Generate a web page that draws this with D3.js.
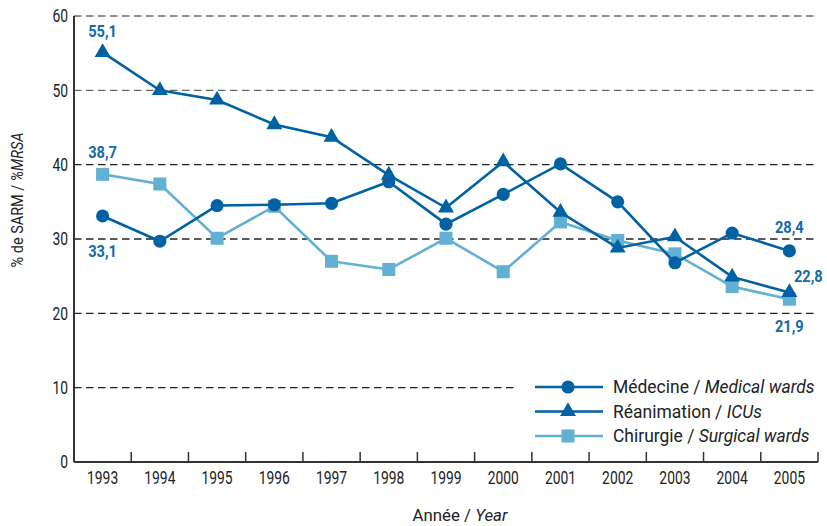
<!DOCTYPE html>
<html><head><meta charset="utf-8">
<script src="https://cdn.jsdelivr.net/npm/d3@7"></script>
<style>
body{margin:0;background:#fff;}
text{font-family:"Roboto","Liberation Sans",sans-serif;}
</style></head>
<body><svg id="c" width="827" height="526"></svg>
<script>
const years = ["1993","1994","1995","1996","1997","1998","1999","2000","2001","2002","2003","2004","2005"];
const medecine = [33.1,29.7,34.5,34.6,34.8,37.7,32.0,36.0,40.1,35.0,26.8,30.8,28.4];
const reanimation = [55.1,50.0,48.7,45.4,43.7,38.6,34.2,40.4,33.6,28.8,30.3,24.9,22.8];
const chirurgie = [38.7,37.4,30.1,34.4,27.0,25.9,30.1,25.6,32.3,29.8,28.0,23.6,21.9];
const yTicks = [0,10,20,30,40,50,60];
const seriesNames = [["Médecine / ","Medical wards"],["Réanimation / ","ICUs"],["Chirurgie / ","Surgical wards"]];
const valueLabels = [
  {s:1,i:0,t:"55,1",dx:0,dy:-21},
  {s:2,i:0,t:"38,7",dx:0,dy:-22},
  {s:0,i:0,t:"33,1",dx:0,dy:35},
  {s:0,i:12,t:"28,4",dx:0,dy:-24},
  {s:1,i:12,t:"22,8",dx:19,dy:-17},
  {s:2,i:12,t:"21,9",dx:0,dy:27}
];

const dark="#0062a2", light="#62b0d3", lblColor="#1569a7";
const svg=d3.select("#c");
const L=74,R=818,T=16,B=462;
const x=d3.scaleBand().domain(years).range([L,R]);
const y=d3.scaleLinear().domain([0,60]).range([B,T]);

function compress(sel,k){
  sel.each(function(){
    const l=this.getComputedTextLength();
    this.setAttribute("textLength",l*k);
    this.setAttribute("lengthAdjust","spacingAndGlyphs");
  });
}

// grid
svg.append("g").selectAll("line").data(yTicks.filter(d=>d>0)).join("line")
  .attr("x1",L).attr("x2",R).attr("y1",d=>y(d)).attr("y2",d=>y(d))
  .attr("stroke",d=>(d===50||d===60)?"#666":"#222").attr("stroke-width",1.3).attr("stroke-dasharray","7.5,4.5");

// y axis
const ya=svg.append("g").attr("transform",`translate(${L},0)`).call(d3.axisLeft(y).tickValues(yTicks).tickSize(0).tickPadding(6));
ya.select(".domain").attr("stroke","#333").attr("stroke-width",2).attr("d",`M0,${T}V${B}`);
ya.selectAll("text").attr("font-size",18).attr("fill","#222").call(compress,0.77);
// x axis
const xa=svg.append("g").attr("transform",`translate(0,${B})`).call(d3.axisBottom(x).tickSize(0));
xa.select(".domain").attr("stroke","#333").attr("stroke-width",2).attr("d",`M${L},0H${R}`);
xa.selectAll("text").attr("dy",null).attr("y",22).attr("font-size",18).attr("fill","#222").call(compress,0.77);
svg.append("g").selectAll("line").data(d3.range(1,years.length+1)).join("line")
  .attr("x1",d=>L+x.step()*d).attr("x2",d=>L+x.step()*d)
  .attr("y1",B).attr("y2",B-10).attr("stroke","#333").attr("stroke-width",1.5);

// titles
svg.append("text").attr("x",460).attr("y",521).attr("text-anchor","middle").attr("font-size",17).attr("fill","#222")
  .html('Année / <tspan font-style="italic">Year</tspan>').call(compress,0.99);
svg.append("text").attr("transform","translate(23,200) rotate(-90)").attr("text-anchor","middle").attr("font-size",17).attr("fill","#222")
  .html('% de SARM / <tspan font-style="italic">%MRSA</tspan>').call(compress,0.85);

const cx=d=>x(d)+x.bandwidth()/2;
const data=[medecine,reanimation,chirurgie];
const colors=[dark,dark,light];
const syms=[d3.symbolCircle,d3.symbolTriangle,d3.symbolSquare];
const sizes=[135,110,170];
const line=d3.line().x((d,i)=>cx(years[i])).y(d=>y(d));
[2,0,1].forEach(s=>{
  svg.append("path").datum(data[s]).attr("d",line).attr("fill","none").attr("stroke",colors[s]).attr("stroke-width",2.6);
  svg.append("g").selectAll("path").data(data[s]).join("path")
    .attr("transform",(d,i)=>`translate(${cx(years[i])},${y(d)})`)
    .attr("d",d3.symbol().type(syms[s]).size(sizes[s])).attr("fill",colors[s]);
});

// value labels
svg.append("g").selectAll("text").data(valueLabels).join("text")
  .attr("x",d=>cx(years[d.i])+d.dx).attr("y",d=>y(data[d.s][d.i])+d.dy+6)
  .attr("text-anchor","middle").attr("font-size",17).attr("font-weight","bold").attr("fill",lblColor)
  .text(d=>d.t).call(compress,0.86);

// legend
const lg=svg.append("g");
lg.append("rect").attr("x",515).attr("y",370).attr("width",305).attr("height",80).attr("fill","#fff");
seriesNames.forEach((n,k)=>{
  const ly=387+k*24.5;
  lg.append("line").attr("x1",535).attr("x2",603).attr("y1",ly).attr("y2",ly).attr("stroke",colors[k]).attr("stroke-width",2.6);
  lg.append("path").attr("transform",`translate(568,${ly})`).attr("d",d3.symbol().type(syms[k]).size(sizes[k])).attr("fill",colors[k]);
  lg.append("text").attr("x",613).attr("y",ly+6).attr("font-size",18).attr("fill","#222")
    .html(`${n[0]}<tspan font-style="italic">${n[1]}</tspan>`).call(compress,0.97);
});
</script></body></html>
